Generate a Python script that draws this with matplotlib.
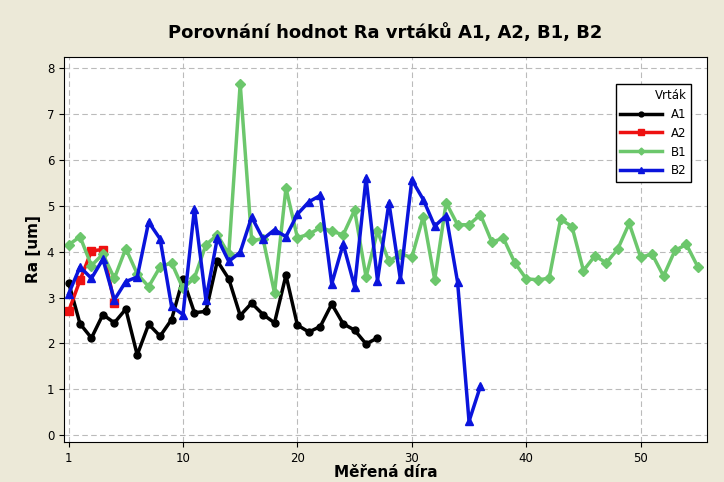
import matplotlib.pyplot as plt

# Ra values, per drill
a1 = [3.33, 2.43, 2.12, 2.63, 2.45, 2.75, 1.75, 2.42, 2.16, 2.52, 3.41, 2.67, 2.70, 3.80,
      3.41, 2.61, 2.88, 2.63, 2.45, 3.49, 2.40, 2.25, 2.37, 2.86, 2.43, 2.29, 1.99, 2.12]
a2 = [2.70, 3.38, 4.02, 4.05, 2.88]
b1 = [4.15, 4.33, 3.70, 3.95, 3.42, 4.07, 3.52, 3.24, 3.67, 3.76, 3.20, 3.43, 4.15, 4.37,
      3.95, 7.67, 4.25, 4.28, 3.10, 5.39, 4.31, 4.38, 4.53, 4.45, 4.37, 4.91, 3.45, 4.45,
      3.79, 3.95, 3.88, 4.77, 3.39, 5.07, 4.59, 4.59, 4.81, 4.21, 4.30, 3.76, 3.41, 3.39,
      3.42, 4.71, 4.55, 3.59, 3.91, 3.76, 4.06, 4.62, 3.88, 3.95, 3.47, 4.03, 4.16, 3.67]
b2 = [3.08, 3.67, 3.42, 3.84, 2.95, 3.35, 3.45, 4.65, 4.28, 2.81, 2.63, 4.94, 2.95, 4.30,
      3.79, 3.99, 4.76, 4.28, 4.48, 4.33, 4.82, 5.09, 5.23, 3.30, 4.17, 3.24, 5.61, 3.37,
      5.07, 3.40, 5.57, 5.14, 4.56, 4.79, 3.34, 0.30, 1.07]

tick_pos = [0, 10, 20, 30, 40, 50]
tick_labels = ["1", "10", "20", "30", "40", "50"]

fig = plt.figure(figsize=(7.24, 4.82), dpi=100, facecolor="#ECE9D8")
ax = fig.add_axes([64/724, 1 - 442/482, (707-64)/724, (442-57)/482])
ax.set_facecolor("white")

series = [
    (a1, "A1", "black", "o", 5),
    (a2, "A2", "#EE1111", "s", 6),
    (b1, "B1", "#6CC76C", "D", 5),
    (b2, "B2", "#0A14DC", "^", 6),
]
for vals, name, col, mk, ms in series:
    ax.plot(range(len(vals)), vals, color=col, marker=mk, markersize=ms, lw=2.5, label=name)

ax.set_xlim(-0.4, 55.8)
ax.set_ylim(-0.15, 8.25)
ax.set_xticks(tick_pos)
ax.set_xticklabels(tick_labels)
ax.set_yticks(range(9))
ax.tick_params(labelsize=8.5)
ax.grid(True, linestyle=(0, (5, 3)), color="#BBBBBB", lw=0.8)

ax.set_title("Porovnání hodnot Ra vrtáků A1, A2, B1, B2", fontsize=13, fontweight="bold", pad=14)
ax.set_xlabel("Měřená díra", fontsize=11, fontweight="bold", labelpad=0)
ax.set_ylabel("Ra [um]", fontsize=11, fontweight="bold")

leg = ax.legend(title="Vrták", loc="upper right", bbox_to_anchor=(0.985, 0.945),
                fontsize=8.5, title_fontsize=8.5, fancybox=False, framealpha=1,
                edgecolor="black", handlelength=3.5, markerscale=0.7)
leg._legend_box.align = "right"

fig.savefig("out.png", dpi=100, facecolor=fig.get_facecolor())
